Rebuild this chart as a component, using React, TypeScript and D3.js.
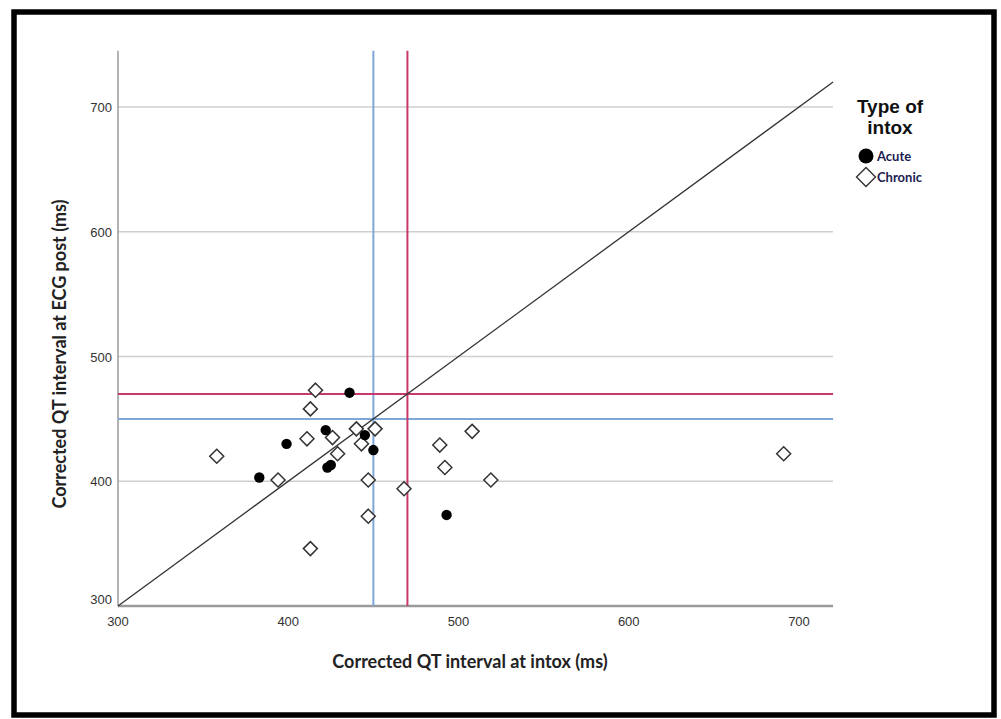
import React from 'react';
import * as d3 from 'd3';

// Acute (filled circles): [QTc at intox, QTc at ECG post]
const acutePoints = [
  [436, 471], [422, 441], [445, 437], [399, 430], [450, 425],
  [423, 411], [425, 413], [383, 403], [493, 373]
];
// Chronic (open diamonds)
const chronicPoints = [
  [416, 473], [413, 458], [440, 442], [451, 442], [411, 434],
  [426, 435], [443, 430], [358, 420], [429, 422], [394, 401],
  [447, 401], [468, 394], [447, 372], [413, 346], [508, 440],
  [489, 429], [492, 411], [519, 401], [691, 422]
];
const xTicks = [300, 400, 500, 600, 700];
const yTicks = [300, 400, 500, 600, 700];
const gridLines = [400, 500, 600, 700];
const blueCut = 450;
const redCut = 470;
const diagonal = [300, 720];

const W = 1001;
const H = 719;

export default function App() {
  const x = d3.scaleLinear().domain([300, 700]).range([118, 799]);
  const y = d3.scaleLinear().domain([300, 700]).range([606, 107]);
  const xMax = 720;
  const yMax = 745;
  const tickFont = '"Liberation Sans", Arial, sans-serif';
  const titleFont = 'Lato, "Open Sans", sans-serif';
  const diamond = (cx, cy, s) => `M${cx},${cy - s}L${cx + s},${cy}L${cx},${cy + s}L${cx - s},${cy}Z`;

  return (
    <svg width={W} height={H} style={{ position: 'absolute', left: 0, top: 0 }}>
      <rect x={0} y={0} width={W} height={H} fill="#fff" />
      <rect x={14} y={12} width={980} height={703} fill="none" stroke="#000" strokeWidth={5.5} />

      {/* gridlines */}
      {gridLines.map(v => (
        <line key={'g' + v} x1={x(300)} x2={x(xMax)} y1={y(v)} y2={y(v)} stroke="#cfcfcf" strokeWidth={1.5} />
      ))}

      {/* axes */}
      <line x1={x(300)} x2={x(300)} y1={y(yMax)} y2={y(300)} stroke="#9a9a9a" strokeWidth={1.5} />
      <line x1={x(300)} x2={x(xMax)} y1={y(300)} y2={y(300)} stroke="#9a9a9a" strokeWidth={2.5} />
      {yTicks.map(v => (
        <text key={'yt' + v} x={x(300) - 6} y={y(v) + (v === 300 ? -2 : 5)} textAnchor="end" fontFamily={tickFont} fontSize={13} fill="#333">{v}</text>
      ))}
      {xTicks.map(v => (
        <text key={'xt' + v} x={x(v)} y={y(300) + 20} textAnchor="middle" fontFamily={tickFont} fontSize={13} fill="#333">{v}</text>
      ))}

      {/* reference lines */}
      <line x1={x(blueCut)} x2={x(blueCut)} y1={y(yMax)} y2={y(300)} stroke="#7ea6d8" strokeWidth={2} />
      <line x1={x(300)} x2={x(xMax)} y1={y(blueCut)} y2={y(blueCut)} stroke="#7ea6d8" strokeWidth={2} />
      <line x1={x(redCut)} x2={x(redCut)} y1={y(yMax)} y2={y(300)} stroke="#c9386a" strokeWidth={2} />
      <line x1={x(300)} x2={x(xMax)} y1={y(redCut)} y2={y(redCut)} stroke="#c9386a" strokeWidth={2} />
      <line x1={x(diagonal[0])} y1={y(diagonal[0])} x2={x(diagonal[1])} y2={y(diagonal[1])} stroke="#333" strokeWidth={1.3} />

      {/* points */}
      {chronicPoints.map((d, i) => (
        <path key={'c' + i} d={diamond(x(d[0]), y(d[1]), 7)} fill="#fff" stroke="#333" strokeWidth={1.5} />
      ))}
      {acutePoints.map((d, i) => (
        <circle key={'a' + i} cx={x(d[0])} cy={y(d[1])} r={5.2} fill="#000" />
      ))}

      {/* axis titles */}
      <text x={470} y={668} textAnchor="middle" fontFamily={titleFont} fontWeight="bold" fontSize={18} fill="#222">Corrected QT interval at intox (ms)</text>
      <text transform="translate(66,354) rotate(-90)" textAnchor="middle" fontFamily={titleFont} fontWeight="bold" fontSize={18} fill="#222">Corrected QT interval at ECG post (ms)</text>

      {/* legend */}
      <text x={890} y={113} textAnchor="middle" fontFamily={tickFont} fontWeight="bold" fontSize={19} fill="#111">Type of</text>
      <text x={890} y={134} textAnchor="middle" fontFamily={tickFont} fontWeight="bold" fontSize={19} fill="#111">intox</text>
      <circle cx={866} cy={156} r={7.5} fill="#000" />
      <text x={877} y={161} fontFamily={titleFont} fontWeight="bold" fontSize={13} fill="#1c1c50">Acute</text>
      <path d={diamond(866, 177, 9.5)} fill="#fff" stroke="#333" strokeWidth={1.4} />
      <text x={877} y={182} fontFamily={titleFont} fontWeight="bold" fontSize={13} fill="#1c1c50">Chronic</text>
    </svg>
  );
}
